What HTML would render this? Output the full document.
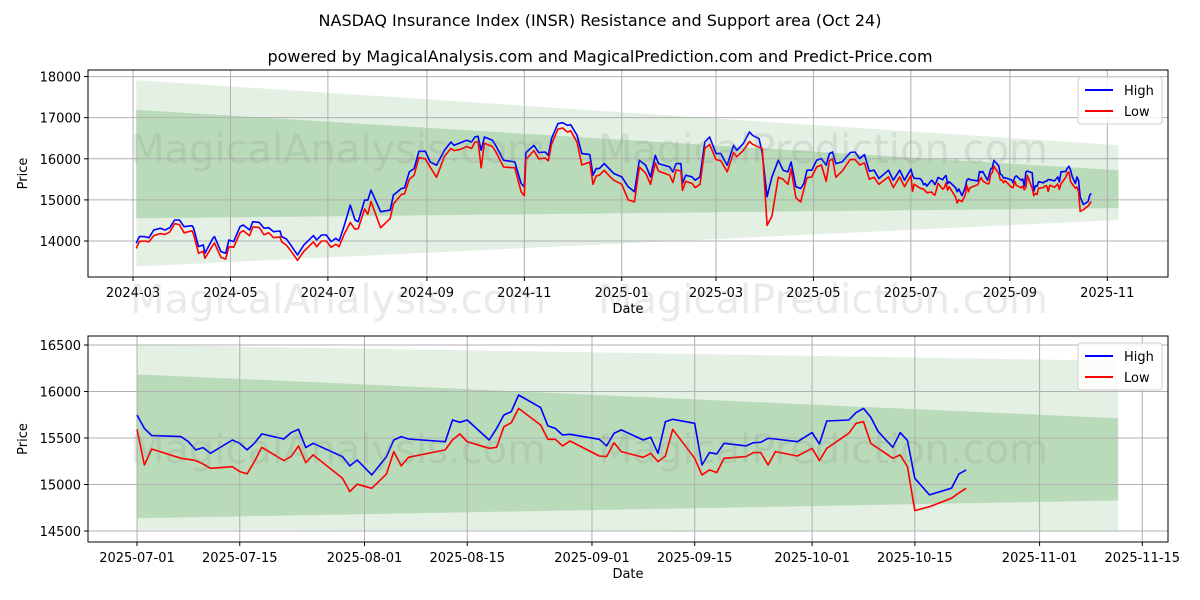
<!DOCTYPE html>
<html><head><meta charset="utf-8"><style>
body{margin:0;background:#fff;}
svg{display:block;font-family:"DejaVu Sans","Liberation Sans",sans-serif;}
</style></head><body>
<svg id="chart" width="1200" height="600" viewBox="0 0 1200 600">
<text x="600" y="26" text-anchor="middle" font-size="16" fill="#000">NASDAQ Insurance Index (INSR) Resistance and Support area (Oct 24)</text>
<text x="600" y="62" text-anchor="middle" font-size="16" fill="#000">powered by MagicalAnalysis.com and MagicalPrediction.com and Predict-Price.com</text>
</svg>
<script>
// ---------- top chart data (days since 2024-03-01) ----------
const topDaysEarly=[2,4,7,10,13,17,20,23,26,29,32,37,38,41,44,45,50,51,55,58,60,63,67,69,73,75,79,82,85,88,92,93,96,98,103,107,113,115,118,121,124,127,129,132,136,139,141,145,147,149,155,161,163,168,170,173,176,179,183,186,190,195,199,201,205,209,212,214,216,218,220,225,227,232,239,243,245,246,251,254,258,260,262,266,269,272,274,278,281,286,288,290,292,295,299,301,306,310,314,317,321,324,327,329,336,338,340,343,344,346,350,352,355,358,361,365,368,372,376,378,382,386,388,392,394,397,400,404,407,410,412,415,418,420,422,425,428,431,434,436,438,440,444,449,452,455,458,461,464,467,473,476,480,483];
const topHighEarly=[13944,14106,14106,14081,14267,14308,14267,14324,14510,14510,14348,14372,14308,13863,13904,13702,14065,14106,13742,13702,14025,13985,14348,14389,14267,14469,14453,14308,14324,14227,14243,14106,14049,13944,13661,13904,14130,14025,14146,14146,13985,14065,14001,14348,14873,14510,14469,14995,14995,15237,14712,14752,15116,15277,15294,15681,15762,16182,16182,15924,15843,16207,16409,16328,16392,16449,16409,16530,16546,16207,16530,16449,16328,15964,15924,15399,15318,16150,16328,16150,16166,16085,16489,16853,16877,16813,16829,16570,16126,16101,15601,15762,15762,15883,15722,15641,15560,15318,15197,15964,15843,15560,16085,15883,15803,15681,15883,15883,15399,15601,15560,15479,15560,16409,16530,16126,16126,15843,16328,16207,16368,16651,16570,16489,16126,15076,15560,15964,15722,15681,15924,15318,15277,15399,15722,15722,15964,16004,15843,16126,16166,15883,15924,16150,16166,16004,16101,15697,15722,15520,15722,15479,15722,15479];
const topLowEarly=[13820,13990,14000,13980,14130,14180,14160,14220,14420,14400,14200,14250,14150,13700,13750,13580,13900,13950,13600,13560,13860,13850,14200,14250,14130,14340,14330,14150,14200,14080,14100,13980,13900,13800,13530,13750,13980,13860,14000,14000,13850,13920,13860,14150,14450,14290,14300,14780,14650,14960,14320,14550,14900,15130,15150,15500,15600,16030,16000,15800,15550,16060,16250,16200,16230,16300,16250,16400,16420,15780,16380,16300,16180,15800,15780,15200,15100,15980,16200,16000,16020,15950,16350,16720,16750,16650,16680,16400,15850,15920,15380,15580,15600,15720,15550,15480,15380,15000,14950,15800,15650,15380,15900,15700,15600,15420,15730,15700,15230,15450,15400,15300,15380,16250,16350,15980,15950,15680,16150,16050,16200,16420,16350,16280,16250,14380,14600,15550,15500,15380,15750,15050,14950,15250,15540,15560,15800,15850,15450,15950,16000,15550,15700,15980,15980,15850,15900,15500,15550,15380,15560,15300,15560,15320];
const topBandStartEnd=[2,617];
const topOuterTop=[17915,16330];
const topInnerTop=[17190,15720];
const topInnerBottom=[14552,14800];
const topOuterBottom=[13380,14510];
const topYTicks=[14000,15000,16000,17000,18000];
const topXTickLabels=["2024-03","2024-05","2024-07","2024-09","2024-11","2025-01","2025-03","2025-05","2025-07","2025-09","2025-11"];

// ---------- bottom chart data (days since 2025-07-01) ----------
const botDays=[0,1,2,6,7,8,9,10,13,14,15,16,17,20,21,22,23,24,28,29,30,32,34,35,36,37,42,43,44,45,48,49,50,51,52,55,56,57,58,59,63,64,65,66,69,70,71,72,73,76,77,78,79,80,83,84,85,86,87,90,92,93,94,97,98,99,100,101,103,104,105,106,108,111,112,113];
const botHigh=[15748,15604,15526,15515,15461,15372,15397,15336,15479,15443,15372,15443,15544,15490,15558,15594,15397,15443,15300,15200,15264,15103,15300,15479,15515,15490,15461,15694,15669,15694,15479,15604,15748,15784,15963,15827,15630,15604,15533,15540,15486,15415,15551,15587,15479,15508,15336,15676,15701,15658,15210,15343,15329,15443,15415,15450,15454,15497,15490,15461,15558,15436,15683,15694,15773,15819,15723,15569,15400,15558,15472,15067,14888,14960,15114,15157];
const botLow=[15594,15210,15382,15282,15271,15257,15221,15174,15192,15139,15114,15246,15400,15257,15300,15415,15235,15318,15067,14924,15003,14959,15114,15354,15200,15293,15372,15480,15544,15461,15390,15400,15622,15665,15819,15640,15486,15486,15415,15468,15307,15300,15450,15354,15293,15336,15246,15307,15594,15282,15103,15157,15128,15282,15300,15343,15343,15210,15354,15307,15390,15257,15390,15551,15658,15676,15443,15390,15282,15318,15192,14720,14762,14852,14910,14960];
const botBandStartEnd=[0,133.7];
const botOuterTop=[16500,16330];
const botInnerTop=[16185,15712];
const botInnerBottom=[14637,14828];
const botOuterBottom=[14515,14500];
const botYTicks=[14500,15000,15500,16000,16500];
const botXTickLabels=["2025-07-01","2025-07-15","2025-08-01","2025-08-15","2025-09-01","2025-09-15","2025-10-01","2025-10-15","2025-11-01","2025-11-15"];

const NS="http://www.w3.org/2000/svg";
const svg=document.getElementById('chart');
function mk(tag,attrs,parent){const e=document.createElementNS(NS,tag);for(const k in attrs)e.setAttribute(k,attrs[k]);(parent||svg).appendChild(e);return e;}
function dayDiff(a,b){return (Date.parse(b+"T00:00:00Z")-Date.parse(a+"T00:00:00Z"))/86400000;}

function drawPanel(cfg){
  const g=mk('g',{});
  
  
  const L=88,R=1168,T=cfg.top,B=cfg.bottom;
  const xs=d=>L+(d-cfg.xmin)/(cfg.xmax-cfg.xmin)*(R-L);
  const ys=v=>B-(v-cfg.ymin)/(cfg.ymax-cfg.ymin)*(B-T);
  const clip=mk('clipPath',{id:cfg.name+'-clip'},g);
  mk('rect',{x:L,y:T,width:R-L,height:B-T},clip);
  const plot=mk('g',{'clip-path':'url(#'+cfg.name+'-clip)'},g);
  const [b0,b1]=cfg.band;
  function band(top,bot,fill,nm){
    const p=mk('polygon',{points:`${xs(b0)},${ys(top[0])} ${xs(b1)},${ys(top[1])} ${xs(b1)},${ys(bot[1])} ${xs(b0)},${ys(bot[0])}`,fill:fill},plot);
    
    
  }
  band(cfg.outerTop,cfg.outerBottom,'#e3f0e3','outer-band');
  band(cfg.innerTop,cfg.innerBottom,'#b9dbb9','inner-band');
  cfg.yticks.forEach(v=>{
    const y=ys(v);
    const gl=mk('line',{x1:L,x2:R,y1:y,y2:y,stroke:'#b0b0b0','stroke-width':1},plot);
    
    
    mk('line',{x1:L-4,x2:L,y1:y,y2:y,stroke:'#000'},g);
    const t=mk('text',{x:L-7,y:y+5,'text-anchor':'end','font-size':13,fill:'#000'},g);
    t.textContent=v;
    
    
  });
  cfg.xticks.forEach(lab=>{
    const d=dayDiff(cfg.origin,cfg.fmt(lab));
    const x=xs(d);
    const gl=mk('line',{x1:x,x2:x,y1:T,y2:B,stroke:'#b0b0b0','stroke-width':1},plot);
    
    
    mk('line',{x1:x,x2:x,y1:B,y2:B+4,stroke:'#000'},g);
    const t=mk('text',{x:x,y:B+20,'text-anchor':'middle','font-size':13,fill:'#000'},g);
    t.textContent=lab;
    
    
  });
  cfg.marks.forEach(m=>{
    const t=mk('text',{x:m[0],y:m[1],'font-size':40,fill:'#808080','fill-opacity':0.17},g);
    t.textContent=m[2];
    
    
  });
  function series(days,vals,color,nm){
    const pts=days.map((d,i)=>xs(d).toFixed(1)+','+ys(vals[i]).toFixed(1)).join(' ');
    const p=mk('polyline',{points:pts,fill:'none',stroke:color,'stroke-width':1.6,'stroke-linejoin':'round'},plot);
    
    
  }
  series(cfg.days,cfg.high,'#0000ff','high-line');
  series(cfg.days,cfg.low,'#ff0000','low-line');
  mk('rect',{x:L,y:T,width:R-L,height:B-T,fill:'none',stroke:'#000','stroke-width':1},g);
  const xt=mk('text',{x:(L+R)/2,y:B+36,'text-anchor':'middle','font-size':13,fill:'#000'},g);
  xt.textContent='Date';
  
  
  const yc=(T+B)/2;
  const yt=mk('text',{x:27,y:yc,'text-anchor':'middle','font-size':13,fill:'#000',transform:`rotate(-90 27 ${yc})`},g);
  yt.textContent='Price';
  
  
  const lg=mk('g',{},g);
  
  
  const ly=T+7;
  mk('rect',{x:1078,y:ly,width:84,height:47,rx:3,fill:'#fff','fill-opacity':0.85,stroke:'#d0d0d0'},lg);
  [['High','#0000ff'],['Low','#ff0000']].forEach((e,i)=>{
    const yy=ly+13+i*21;
    const le=mk('g',{},lg);
    
    
    mk('line',{x1:1085,x2:1113,y1:yy,y2:yy,stroke:e[1],'stroke-width':2},le);
    const t=mk('text',{x:1124,y:yy+5,'font-size':13,fill:'#000'},le);
    t.textContent=e[0];
  });
}

const topDays=topDaysEarly.concat(botDays.map(d=>d+487));
drawPanel({name:'top-panel',top:70,bottom:277,xmin:-28.2,xmax:648,ymin:13124,ymax:18160,
  origin:'2024-03-01',fmt:s=>s+'-01',xticks:topXTickLabels,yticks:topYTicks,
  band:topBandStartEnd,outerTop:topOuterTop,innerTop:topInnerTop,innerBottom:topInnerBottom,outerBottom:topOuterBottom,
  days:topDays,high:topHighEarly.concat(botHigh),low:topLowEarly.concat(botLow),
  marks:[[130,163,'MagicalAnalysis.com'],[598,163,'MagicalPrediction.com'],[130,313,'MagicalAnalysis.com'],[598,313,'MagicalPrediction.com']]});
drawPanel({name:'bottom-panel',top:336,bottom:542,xmin:-6.68,xmax:140.5,ymin:14382,ymax:16597,
  origin:'2025-07-01',fmt:s=>s,xticks:botXTickLabels,yticks:botYTicks,
  band:botBandStartEnd,outerTop:botOuterTop,innerTop:botInnerTop,innerBottom:botInnerBottom,outerBottom:botOuterBottom,
  days:botDays,high:botHigh,low:botLow,
  marks:[[130,463,'MagicalAnalysis.com'],[598,463,'MagicalPrediction.com']]});
</script>
</body></html>
